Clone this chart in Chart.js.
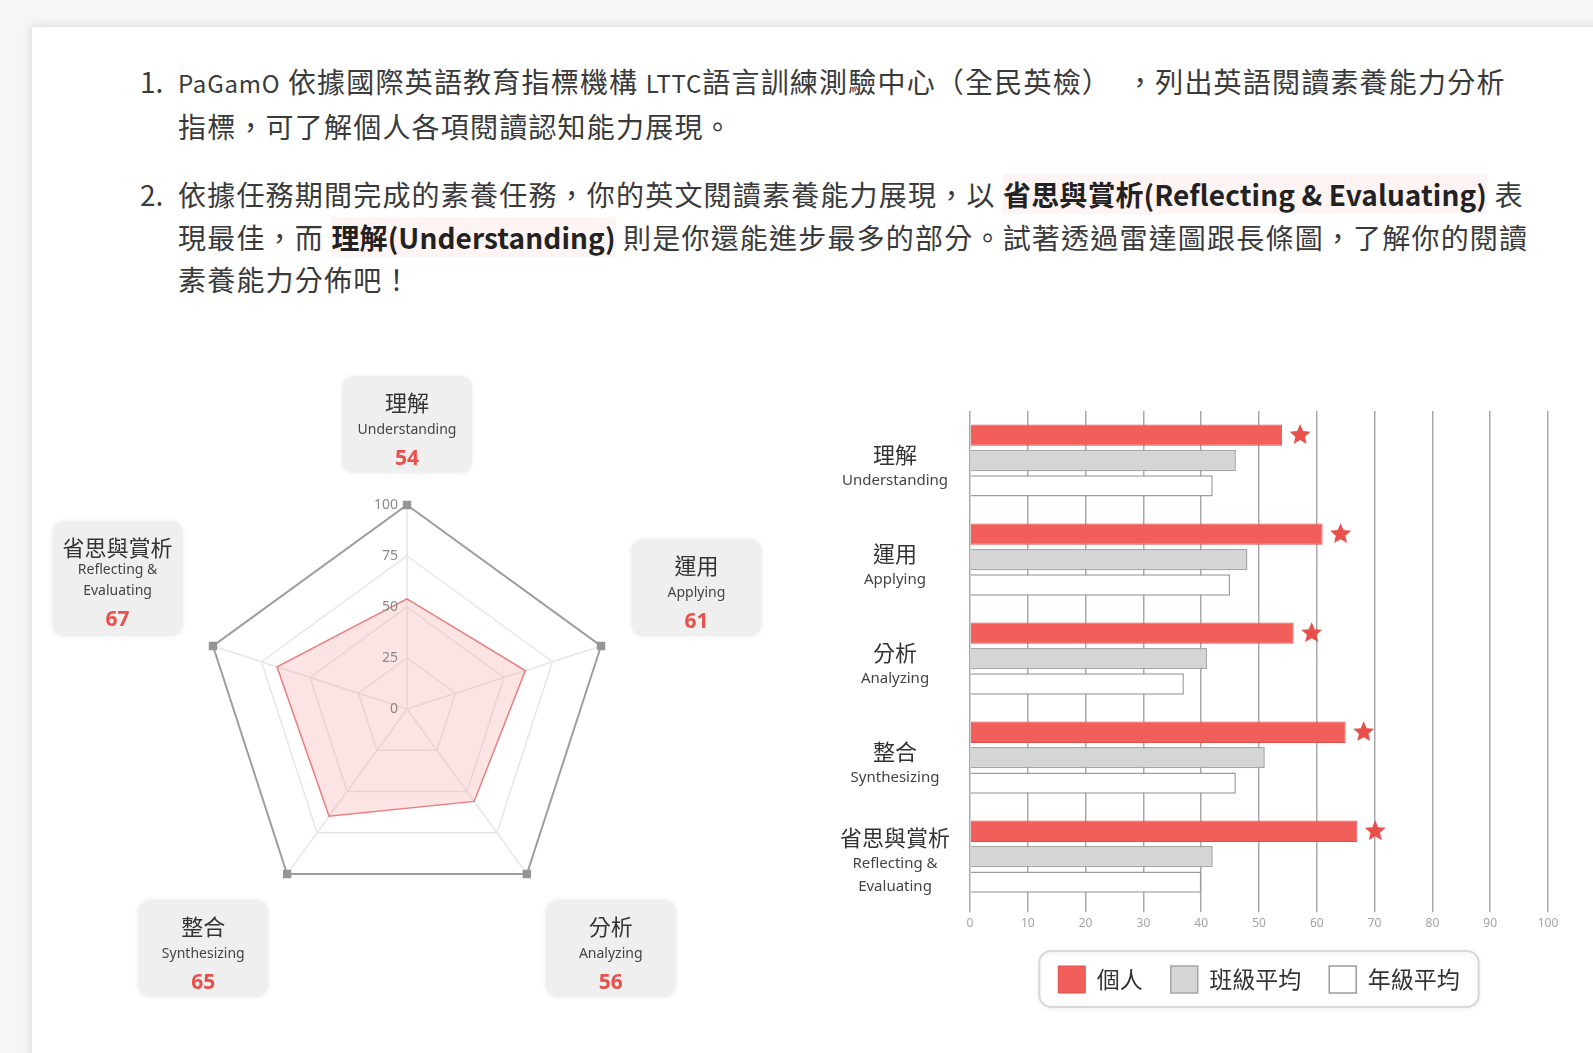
<!DOCTYPE html>
<html lang="zh-Hant">
<head>
<meta charset="utf-8">
<title>英語閱讀素養能力分析</title>
<script src="https://cdn.jsdelivr.net/npm/chart.js@4.4.1/dist/chart.umd.min.js"></script>
<style>
  html, body { margin: 0; padding: 0; }
  body {
    width: 1593px; height: 1053px; position: relative; overflow: hidden;
    background: #f6f6f6;
    font-family: "Noto Sans CJK TC", "Noto Sans", sans-serif;
  }
  .card {
    position: absolute; left: 32px; top: 27px; width: 1620px; height: 1100px;
    background: #fff; box-shadow: 0 0 10px rgba(0, 0, 0, 0.14);
  }
  .intro {
    position: absolute; left: 140px; top: 60px; margin: 0; padding: 0;
    list-style: none; white-space: nowrap;
    font-size: 28px; letter-spacing: 1.2px; line-height: 42.5px; color: #3a3a3a;
  }
  .intro li { position: relative; padding-left: 38px; margin-bottom: 26px; }
  .intro .num { position: absolute; left: 0; top: 0; letter-spacing: 0; }
  .intro .lat { font-size: 24px; letter-spacing: 0.8px; }
  .intro b { color: #222; letter-spacing: 0.1px; background: rgba(255, 185, 185, 0.16); }
  #radar-wrap { position: absolute; left: 40px; top: 360px; width: 740px; height: 660px; }
  #bar-wrap { position: absolute; left: 800px; top: 390px; width: 780px; height: 623px; }
</style>
</head>
<body>
<div class="card"></div>

<ol class="intro">
  <li><span class="num">1.</span><span class="lat">PaGamO</span> 依據國際英語教育指標機構 <span class="lat">LTTC</span>語言訓練測驗中心（全民英檢） &nbsp;，列出英語閱讀素養能力分析<br>指標，可了解個人各項閱讀認知能力展現。</li>
  <li><span class="num">2.</span>依據任務期間完成的素養任務，你的英文閱讀素養能力展現，以 <b>省思與賞析(Reflecting &amp; Evaluating)</b> 表<br>現最佳，而 <b>理解(Understanding)</b> 則是你還能進步最多的部分。試著透過雷達圖跟長條圖，了解你的閱讀<br>素養能力分佈吧！</li>
</ol>

<div id="radar-wrap"><canvas id="radar"></canvas></div>
<div id="bar-wrap"><canvas id="bar"></canvas></div>

<script>
// 資料
const skillsZh = ['理解', '運用', '分析', '整合', '省思與賞析'];
const skillsEn = [['Understanding'], ['Applying'], ['Analyzing'], ['Synthesizing'], ['Reflecting &', 'Evaluating']];
const personal = [54, 61, 56, 65, 67];
const classAvg = [46, 48, 41, 51, 42];
const gradeAvg = [42, 45, 37, 46, 40];
const fullScore = [100, 100, 100, 100, 100];
const seriesNames = ['個人', '班級平均', '年級平均'];
const radarTicks = [0, 25, 50, 75, 100];
const barTicks = [0, 10, 20, 30, 40, 50, 60, 70, 80, 90, 100];

const zhFont = '"Noto Sans CJK TC", sans-serif';
const enFont = '"Noto Sans", sans-serif';
const red = '#e9504b';

function drawStar(ctx, cx, cy, outer, inner, color) {
    ctx.beginPath();
    for (let k = 0; k < 10; k++) {
        const rad = k % 2 === 0 ? outer : inner;
        const a = -Math.PI / 2 + k * Math.PI / 5;
        const px = cx + rad * Math.cos(a);
        const py = cy + rad * Math.sin(a);
        if (k === 0) ctx.moveTo(px, py); else ctx.lineTo(px, py);
    }
    ctx.closePath();
    ctx.fillStyle = color;
    ctx.fill();
}

// 雷達圖：刻度文字與各項標籤方塊
const radarDecor = {
    id: 'radarDecor',
    afterDatasetsDraw(chart) {
        const ctx = chart.ctx;
        const r = chart.scales.r;
        ctx.save();

        ctx.font = '14px ' + enFont;
        ctx.fillStyle = '#8a8a8a';
        ctx.textAlign = 'right';
        ctx.textBaseline = 'middle';
        r.ticks.forEach(t => {
            ctx.fillText(String(t.value), r.xCenter - 9, r.yCenter - r.getDistanceFromCenterForValue(t.value));
        });

        skillsZh.forEach((zh, i) => {
            const en = skillsEn[i];
            const w = 130;
            const h = en.length > 1 ? 115 : 97;
            const p = r.getPointPosition(i, r.drawingArea + 32);
            const deg = (r.getIndexAngle(i) * 180 / Math.PI) % 360;

            let left;
            if (deg < 1 || Math.abs(deg - 180) < 1) left = p.x - w / 2;
            else if (deg < 180) left = p.x;
            else left = p.x - w;
            let top;
            if (Math.abs(deg - 90) < 1 || Math.abs(deg - 270) < 1) top = p.y - h / 2;
            else if (deg > 270 || deg < 90) top = p.y - h;
            else top = p.y;

            ctx.save();
            ctx.shadowColor = 'rgba(0,0,0,0.08)';
            ctx.shadowBlur = 5;
            ctx.fillStyle = '#efefef';
            ctx.beginPath();
            ctx.roundRect(left, top, w, h, 12);
            ctx.fill();
            ctx.restore();

            const cx = left + w / 2;
            ctx.textAlign = 'center';
            ctx.textBaseline = 'middle';
            ctx.fillStyle = '#333';
            ctx.font = '22px ' + zhFont;
            ctx.fillText(zh, cx, top + 27);
            ctx.fillStyle = '#444';
            ctx.font = '14px ' + enFont;
            let y = en.length > 1 ? top + 49 : top + 54;
            en.forEach(line => { ctx.fillText(line, cx, y); y += 21; });
            ctx.fillStyle = red;
            ctx.font = 'bold 21px ' + enFont;
            ctx.fillText(String(personal[i]), cx, en.length > 1 ? top + 99 : top + 83);
        });
        ctx.restore();
    }
};

// 長條圖：類別文字、星號、圖例外框
const barDecor = {
    id: 'barDecor',
    afterDraw(chart) {
        const { ctx, chartArea } = chart;
        const yScale = chart.scales.y;
        const lx = chartArea.left - 75;
        ctx.save();
        ctx.textAlign = 'center';
        ctx.textBaseline = 'middle';
        skillsZh.forEach((zh, i) => {
            const cy = yScale.getPixelForValue(i);
            const en = skillsEn[i];
            const top = en.length > 1 ? cy - 19 : cy - 6;
            ctx.fillStyle = '#333';
            ctx.font = '22px ' + zhFont;
            ctx.fillText(zh, lx, top);
            ctx.fillStyle = '#444';
            ctx.font = '15px ' + enFont;
            en.forEach((line, k) => ctx.fillText(line, lx, top + 26 + k * 23));
        });

        chart.getDatasetMeta(0).data.forEach(bar => {
            drawStar(ctx, bar.x + 18, bar.y, 11, 5, red);
        });

        const hb = chart.legend.legendHitBoxes;
        if (hb && hb.length) {
            const l = Math.min(...hb.map(b => b.left)) - 19;
            const rgt = Math.max(...hb.map(b => b.left + b.width)) + 19;
            const t = hb[0].top - 15;
            const btm = hb[0].top + hb[0].height + 14;
            ctx.save();
            ctx.shadowColor = 'rgba(0,0,0,0.1)';
            ctx.shadowBlur = 4;
            ctx.shadowOffsetY = 1;
            ctx.strokeStyle = '#d8d8d8';
            ctx.lineWidth = 2;
            ctx.beginPath();
            ctx.roundRect(l, t, rgt - l, btm - t, 12);
            ctx.stroke();
            ctx.restore();
        }
        ctx.restore();
    }
};

new Chart(document.getElementById('radar'), {
    type: 'radar',
    data: {
        labels: skillsZh,
        datasets: [
            {
                label: seriesNames[0],
                data: personal,
                borderColor: 'rgba(230, 105, 105, 0.85)',
                borderWidth: 1.5,
                backgroundColor: 'rgba(245, 165, 165, 0.3)',
                fill: true,
                pointRadius: 0
            },
            {
                label: '滿分',
                data: fullScore,
                borderColor: '#9e9e9e',
                borderWidth: 2,
                fill: false,
                pointStyle: 'rect',
                pointRadius: 4.5,
                pointBackgroundColor: '#969696',
                pointBorderColor: '#969696'
            }
        ]
    },
    options: {
        responsive: true,
        maintainAspectRatio: false,
        animation: false,
        layout: { padding: { left: 163, right: 169, top: 145, bottom: 107 } },
        plugins: { legend: { display: false }, tooltip: { enabled: false } },
        scales: {
            r: {
                min: 0,
                max: 100,
                afterBuildTicks: s => { s.ticks = radarTicks.map(v => ({ value: v })); },
                ticks: { display: false },
                pointLabels: { display: false },
                grid: { color: '#e6e6e6', lineWidth: 1.5 },
                angleLines: { color: '#e6e6e6', lineWidth: 1.5 }
            }
        }
    },
    plugins: [radarDecor]
});

new Chart(document.getElementById('bar'), {
    type: 'bar',
    data: {
        labels: skillsZh,
        datasets: [
            { label: seriesNames[0], data: personal, backgroundColor: '#f25e5a', borderColor: '#de4f4b', borderWidth: 1 },
            { label: seriesNames[1], data: classAvg, backgroundColor: '#d5d5d5', borderColor: '#a6a6a6', borderWidth: 1.5 },
            { label: seriesNames[2], data: gradeAvg, backgroundColor: '#ffffff', borderColor: '#9c9c9c', borderWidth: 1.5 }
        ]
    },
    options: {
        indexAxis: 'y',
        responsive: true,
        maintainAspectRatio: false,
        animation: false,
        datasets: { bar: { categoryPercentage: 0.77, barPercentage: 0.84 } },
        layout: { padding: { left: 170, right: 32, top: 21, bottom: 10 } },
        plugins: {
            tooltip: { enabled: false },
            legend: {
                position: 'bottom',
                labels: {
                    boxWidth: 27,
                    boxHeight: 27,
                    padding: 28,
                    color: '#333',
                    font: { size: 23, family: zhFont }
                }
            }
        },
        scales: {
            x: {
                min: 0,
                max: 100,
                afterBuildTicks: s => { s.ticks = barTicks.map(v => ({ value: v })); },
                grid: { color: '#a9a9a9', lineWidth: 1.5, tickLength: 6 },
                border: { display: false },
                ticks: { color: '#a3a3a3', padding: 4, font: { size: 12, family: enFont } },
                title: { display: true, text: ' ', font: { size: 2 }, padding: { top: 0, bottom: 1 } }
            },
            y: { display: false }
        }
    },
    plugins: [barDecor]
});
</script>
</body>
</html>
